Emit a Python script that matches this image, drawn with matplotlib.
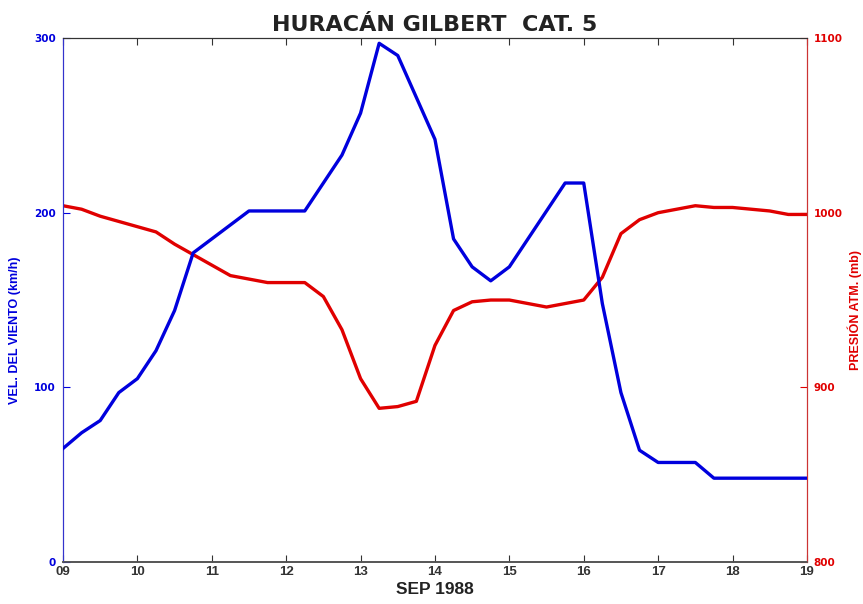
import numpy as np
import matplotlib
matplotlib.use("Agg")
import matplotlib.pyplot as plt

# días (paso de 6 horas), septiembre 1988
dias = np.arange(9.0, 19.01, 0.25)

vel_viento = [65, 74, 81, 97, 105, 121, 144, 177, 185, 193, 201, 201,
              201, 201, 217, 233, 257, 297, 290, 266, 242, 185, 169, 161,
              169, 185, 201, 217, 217, 148, 97, 64, 57, 57, 57, 48,
              48, 48, 48, 48, 48]

presion = [1004, 1002, 998, 995, 992, 989, 982, 976, 970, 964, 962, 960,
           960, 960, 952, 933, 905, 888, 889, 892, 924, 944, 949, 950,
           950, 948, 946, 948, 950, 963, 988, 996, 1000, 1002, 1004, 1003,
           1003, 1002, 1001, 999, 999]

xticks = list(range(9, 20))
xlabels = ["%02d" % d for d in xticks]

azul = "#0000dd"
rojo = "#e00000"

plt.rcParams['font.family'] = ['Liberation Sans', 'DejaVu Sans']

fig = plt.figure(figsize=(8.63, 6.04), dpi=100)
ax = fig.add_axes([0.073, 0.0695, 0.862, 0.8675])
ax2 = ax.twinx()

ax.plot(dias, vel_viento, color=azul, linewidth=2.4, zorder=3)
ax2.plot(dias, presion, color=rojo, linewidth=2.4)

ax.set_xlim(9, 19)
ax.set_ylim(0, 300)
ax2.set_ylim(800, 1100)
ax.set_zorder(ax2.get_zorder() + 1)
ax.patch.set_visible(False)

ax.set_xticks(xticks)
ax.set_xticklabels(xlabels, fontsize=9.5, fontweight='bold',
                   family=['Liberation Sans Narrow', 'Liberation Sans'])
ax.set_yticks([0, 100, 200, 300])
ax2.set_yticks([800, 900, 1000, 1100])

ax.tick_params(axis='x', direction='in', top=True, length=5, color='#333333',
               pad=3, labelcolor='#333333')
ax.tick_params(axis='y', direction='in', length=5, colors=azul, labelsize=7.5,
               pad=5)
ax2.tick_params(axis='y', direction='in', length=5, colors=rojo, labelsize=7.5,
                pad=5)
for lab in ax.get_yticklabels() + ax2.get_yticklabels():
    lab.set_fontweight('bold')
    lab.set_family('DejaVu Sans')

for a in (ax, ax2):
    a.spines['top'].set_color('#333333')
    a.spines['bottom'].set_color('#555555')
    a.spines['left'].set_color('#3333cc')
    a.spines['right'].set_color('#cc3333')
    a.spines['bottom'].set_linewidth(1.2)

ax.set_ylabel("VEL. DEL VIENTO (km/h)", color=azul, fontsize=9,
              fontweight='bold')
ax.yaxis.set_label_coords(-0.056, 0.443)
ax2.set_ylabel("PRESIÓN ATM. (mb)", color=rojo, fontsize=9,
               fontweight='bold', rotation=90)
ax2.yaxis.set_label_coords(1.054, 0.481)
ax.set_xlabel("SEP 1988", fontsize=12.5, fontweight='bold', color='#222222',
              labelpad=3)
ax.set_title("HURACÁN GILBERT  CAT. 5", fontsize=16, fontweight='bold',
             color='#222222', pad=5, family='DejaVu Sans')

fig.savefig("out.png", dpi=100)
